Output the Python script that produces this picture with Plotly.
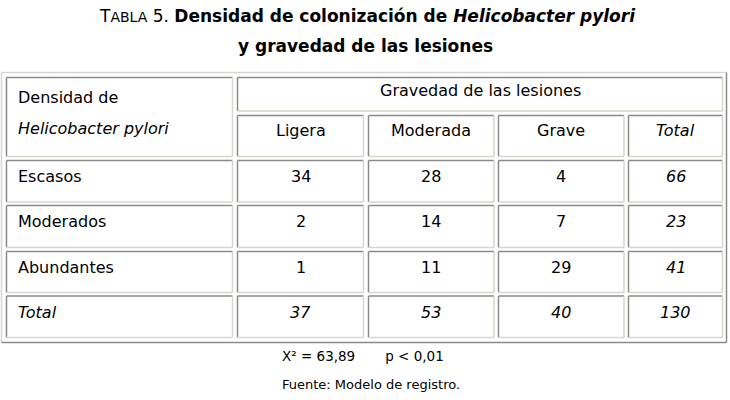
import plotly.graph_objects as go

# datos de la tabla
filas = ["Escasos", "Moderados", "Abundantes"]
columnas = ["Ligera", "Moderada", "Grave"]
ligera = [34, 2, 1]
moderada = [28, 14, 11]
grave = [4, 7, 29]
total_filas = [66, 23, 41]
total_columnas = [37, 53, 40]
total_general = 130

titulo_1 = ("<span style='font-size:17px'>T</span><span style='font-size:14px'>ABLA</span>"
            "<span style='font-size:17px'> 5. </span>"
            "<b>Densidad de colonización de <i>Helicobacter pylori</i></b>")
titulo_2 = "<b>y gravedad de las lesiones</b>"
estadistico = "X² = 63,89\u00a0\u00a0\u00a0\u00a0\u00a0\u00a0\u00a0p < 0,01"
fuente = "Fuente: Modelo de registro."

# geometria (pixeles)
col_x = [(6.5, 232.5), (237.5, 363.5), (368.5, 494), (498.5, 624), (628.5, 722.5)]
fila_y = [(77.5, 111), (115.5, 156.5), (160.5, 202), (205.5, 247.5), (251.5, 292.5), (296, 337.5)]
oscuro = "#8a8a8a"
claro = "#d8d5cd"
FONT = "DejaVu Sans"

fig = go.Figure()
shapes = []
annotations = []


def celda(x0, x1, y0, y1):
    shapes.append(dict(type="rect", x0=x0, x1=x1, y0=y0, y1=y1,
                       fillcolor="white", line=dict(width=0), layer="below"))
    shapes.append(dict(type="line", x0=x0, x1=x1, y0=y0, y1=y0, line=dict(color=oscuro, width=1.5)))
    shapes.append(dict(type="line", x0=x0, x1=x0, y0=y0, y1=y1, line=dict(color=oscuro, width=1.5)))
    shapes.append(dict(type="line", x0=x0, x1=x1, y0=y1, y1=y1, line=dict(color=claro, width=1.5)))
    shapes.append(dict(type="line", x0=x1, x1=x1, y0=y0, y1=y1, line=dict(color=claro, width=1.5)))


def texto(t, x, y, anchor="center", size=16):
    annotations.append(dict(text=t, x=x, y=y, xref="x", yref="y", showarrow=False,
                            xanchor=anchor, yanchor="middle",
                            font=dict(family=FONT, size=size, color="black")))


# borde exterior
shapes.append(dict(type="line", x0=1.5, x1=726.5, y0=72.5, y1=72.5, line=dict(color=claro, width=1.5)))
shapes.append(dict(type="line", x0=1.5, x1=1.5, y0=72.5, y1=342.5, line=dict(color=claro, width=1.5)))
shapes.append(dict(type="line", x0=1.5, x1=726.5, y0=342.5, y1=342.5, line=dict(color=oscuro, width=1.5)))
shapes.append(dict(type="line", x0=726.5, x1=726.5, y0=72.5, y1=342.5, line=dict(color=oscuro, width=1.5)))

# encabezados
celda(col_x[0][0], col_x[0][1], fila_y[0][0], fila_y[1][1])
texto("Densidad de", 16, 97, "left")
texto("<i>Helicobacter pylori</i>", 16, 128, "left")
celda(col_x[1][0], col_x[4][1], fila_y[0][0], fila_y[0][1])
texto("Gravedad de las lesiones", (col_x[1][0] + col_x[4][1]) / 2, 90)
for j, nombre in enumerate(columnas + ["<i>Total</i>"]):
    x0, x1 = col_x[j + 1]
    celda(x0, x1, fila_y[1][0], fila_y[1][1])
    texto(nombre, (x0 + x1) / 2, fila_y[1][0] + 15)

# cuerpo
valores = list(zip(ligera, moderada, grave, total_filas))
for i, nombre in enumerate(filas + ["<i>Total</i>"]):
    y0, y1 = fila_y[i + 2]
    celda(col_x[0][0], col_x[0][1], y0, y1)
    texto(nombre, 16, y0 + 16, "left")
    if i < len(filas):
        celdas = [str(v) for v in valores[i][:3]] + ["<i>%d</i>" % valores[i][3]]
    else:
        celdas = ["<i>%d</i>" % v for v in total_columnas + [total_general]]
    for j, v in enumerate(celdas):
        x0, x1 = col_x[j + 1]
        celda(x0, x1, y0, y1)
        texto(v, (x0 + x1) / 2, y0 + 16)

# titulo y pie
texto(titulo_1, 367, 16, size=17)
texto(titulo_2, 365, 46, size=17)
texto(estadistico, 363, 356, size=13.5)
texto(fuente, 371, 384, size=13)

fig.update_layout(
    width=730, height=400, margin=dict(l=0, r=0, t=0, b=0),
    paper_bgcolor="white", plot_bgcolor="white",
    xaxis=dict(range=[0, 730], visible=False, fixedrange=True),
    yaxis=dict(range=[400, 0], visible=False, fixedrange=True),
    shapes=shapes, annotations=annotations, showlegend=False,
)

fig.write_html("out.html", config={"displayModeBar": False},
               post_script="document.body.style.margin='0px';")
